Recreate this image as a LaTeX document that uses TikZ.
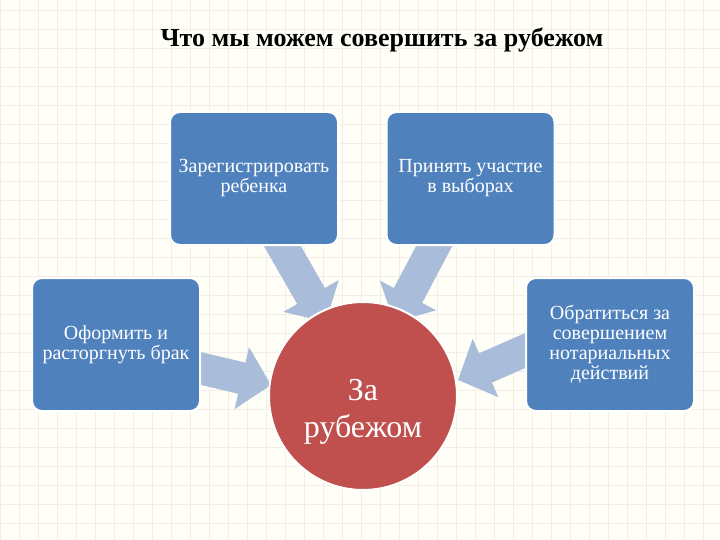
\documentclass[tikz,border=0pt]{standalone}
\usepackage{fontspec}
\setmainfont{Liberation Serif}
\usetikzlibrary{arrows.meta}
\definecolor{boxblue}{HTML}{4F81BD}
\definecolor{circred}{HTML}{C0504D}
\definecolor{arrblue}{HTML}{A9BCD9}
\definecolor{gridc}{HTML}{F0EEE6}
\begin{document}
\begin{tikzpicture}[x=1pt,y=-1pt,
  bbox/.style={draw=white,line width=2pt,fill=boxblue,rounded corners=10pt,text=white,
    minimum width=168pt,minimum height=133pt,align=center,font=\fontsize{20}{20}\selectfont,inner sep=2pt},
  barr/.style={arrblue,line width=32pt,-{Triangle[width=62pt,length=30pt]}}]
\useasboundingbox (0,0) rectangle (720,540);
\fill[white!97!yellow] (0,0) rectangle (720,540);
\foreach \i in {0,19,...,720} \draw[gridc,line width=0.8pt] (\i,0) -- (\i,540);
\foreach \j in {10,29,...,540} \draw[gridc,line width=0.8pt] (0,\j) -- (720,\j);
\node[font=\bfseries\fontsize{26}{28}\selectfont] (title) at (382,40) {Что мы можем совершить за рубежом};
\coordinate (s1) at (276,235); \coordinate (e1) at (326,322);
\coordinate (s2) at (440,235); \coordinate (e2) at (394,322);
\coordinate (s3) at (190,366); \coordinate (e3) at (271,385);
\coordinate (s4) at (540,344); \coordinate (e4) at (458,380);
\draw[barr] (s1) -- (e1);
\draw[barr] (s2) -- (e2);
\draw[barr] (s3) -- (e3);
\draw[barr] (s4) -- (e4);
\node[bbox] (b1) at (254,178.5) {Зарегистрировать\\ребенка};
\node[bbox] (b2) at (470.5,178.5) {Принять участие\\в выборах};
\node[bbox] (b3) at (116,344.5) {Оформить и\\расторгнуть брак};
\node[bbox] (b4) at (610,344.5) {Обратиться за\\совершением\\нотариальных\\действий};
\node[circle,fill=circred,draw=white,line width=2pt,minimum size=188pt] (c) at (363,396) {};
\node[text=white,align=center,font=\fontsize{32}{37}\selectfont] (ct) at (363,412) {За\\рубежом};
\end{tikzpicture}
\end{document}
